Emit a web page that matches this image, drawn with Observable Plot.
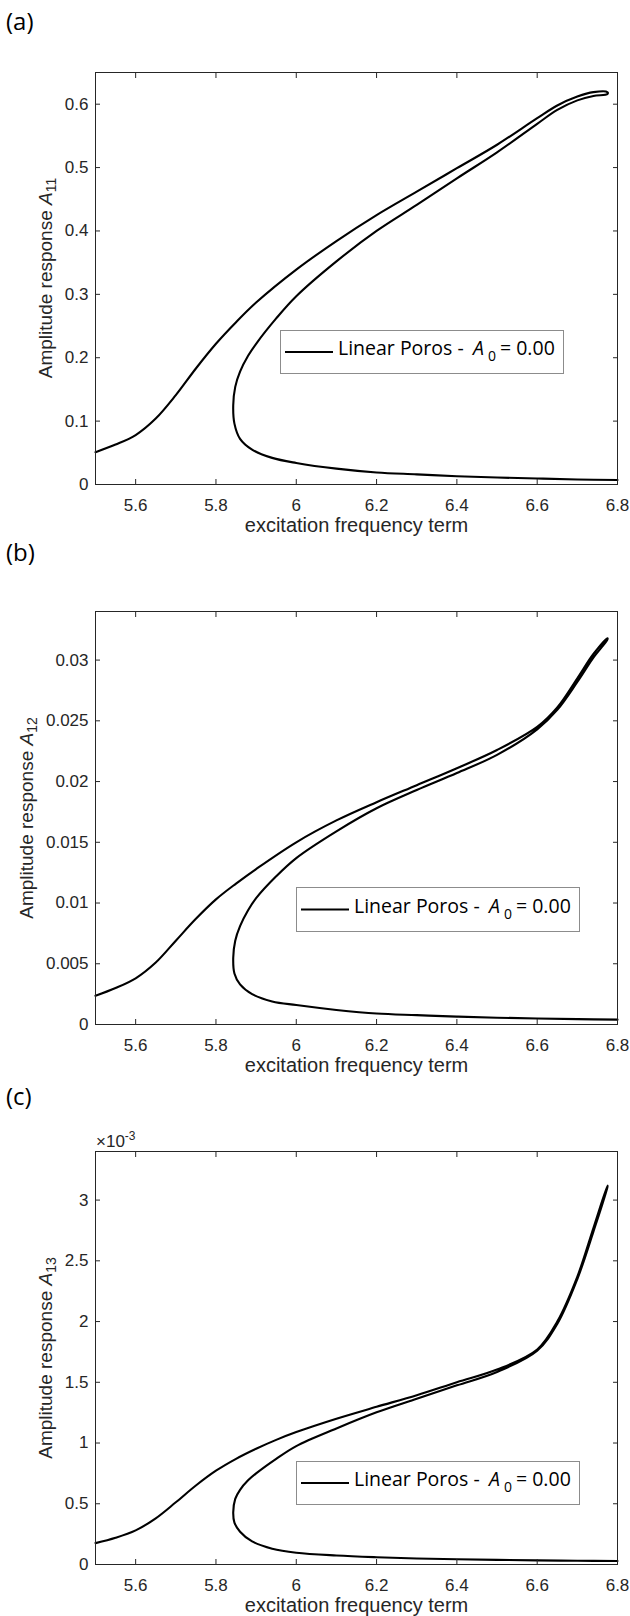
<!DOCTYPE html>
<html><head><meta charset="utf-8">
<script src="https://cdn.jsdelivr.net/npm/d3@7"></script>
<script src="https://cdn.jsdelivr.net/npm/@observablehq/plot@0.6"></script>
<style>
body{margin:0;background:#fff;}
#root{position:relative;width:630px;height:1616px;overflow:hidden;background:#fff;}
.panel{position:absolute;left:0;}
#overlay{position:absolute;left:0;top:0;pointer-events:none;}
</style></head>
<body><div id="root"></div>
<script>
// ---- data ----
const xTicks = [5.6, 5.8, 6.0, 6.2, 6.4, 6.6, 6.8];
const xDomain = [5.5, 6.8];
const xLabel = "excitation frequency term";
const panelLetters = ["(a)", "(b)", "(c)"];
const legendText = "Linear Poros -";
const legendValue = "= 0.00";

// (a) A11
const yTicksA = [0, 0.1, 0.2, 0.3, 0.4, 0.5, 0.6];
const yDomainA = [0, 0.65];
const a11Upper = [[5.5,.051],[5.55,.063],[5.6,.078],[5.65,.104],[5.7,.141],[5.75,.183],[5.8,.222],[5.85,.256],[5.9,.287],[6.0,.339],[6.1,.384],[6.2,.425],[6.3,.462],[6.4,.499],[6.5,.536],[6.6,.578],[6.65,.598],[6.7,.612],[6.74,.619],[6.775,.619]];
const a11Return = [[6.775,.616],[6.74,.613],[6.7,.606],[6.65,.591],[6.6,.569],[6.5,.524],[6.4,.483],[6.3,.441],[6.2,.400],[6.1,.352],[6.0,.297],[5.95,.262],[5.9,.222],[5.88,.203],[5.86,.178],[5.848,.154],[5.843,.125],[5.846,.096],[5.86,.072],[5.89,.055],[5.94,.042],[6.0,.034],[6.1,.025],[6.2,.019],[6.3,.016],[6.4,.013],[6.5,.011],[6.6,.0095],[6.7,.008],[6.8,.007]];

// (b) A12
const yTicksB = [0, 0.005, 0.01, 0.015, 0.02, 0.025, 0.03];
const yDomainB = [0, 0.034];
const a12Upper = [[5.5,.00236],[5.55,.0030],[5.6,.0038],[5.65,.0051],[5.7,.0069],[5.75,.0087],[5.8,.0103],[5.85,.0116],[5.9,.0128],[6.0,.0150],[6.1,.0168],[6.2,.0183],[6.3,.0197],[6.4,.0211],[6.5,.0226],[6.6,.0245],[6.65,.0261],[6.7,.0285],[6.74,.0305],[6.775,.0318]];
const a12Return = [[6.775,.0317],[6.74,.0302],[6.7,.0282],[6.65,.0259],[6.6,.0243],[6.5,.0222],[6.4,.0207],[6.3,.0193],[6.2,.0178],[6.1,.0159],[6.0,.0137],[5.95,.0122],[5.9,.0104],[5.88,.0094],[5.86,.0081],[5.848,.0069],[5.843,.0055],[5.846,.0042],[5.86,.0033],[5.89,.0025],[5.94,.0019],[6.0,.0016],[6.1,.0012],[6.2,.0009],[6.3,.00077],[6.4,.00065],[6.5,.00056],[6.6,.0005],[6.7,.00044],[6.8,.0004]];

// (c) A13 (in units of 1e-3)
const yTicksC = [0, 0.5, 1, 1.5, 2, 2.5, 3];
const yDomainC = [0, 3.4];
const a13Upper = [[5.5,.176],[5.55,.22],[5.6,.281],[5.65,.38],[5.7,.512],[5.75,.650],[5.8,.772],[5.85,.870],[5.9,.953],[5.95,1.026],[6.0,1.090],[6.1,1.200],[6.2,1.298],[6.3,1.394],[6.4,1.501],[6.5,1.605],[6.6,1.77],[6.65,2.0],[6.7,2.37],[6.74,2.77],[6.775,3.12]];
const a13Return = [[6.775,3.11],[6.74,2.74],[6.7,2.35],[6.65,1.98],[6.6,1.76],[6.5,1.585],[6.4,1.475],[6.3,1.365],[6.2,1.253],[6.1,1.12],[6.0,.975],[5.95,.87],[5.9,.75],[5.88,.693],[5.86,.615],[5.848,.54],[5.843,.43],[5.846,.345],[5.86,.27],[5.89,.19],[5.94,.13],[6.0,.097],[6.1,.074],[6.2,.06],[6.3,.05],[6.4,.043],[6.5,.038],[6.6,.034],[6.7,.031],[6.8,.029]];

// ---- drawing ----
const fmt = d => String(+d.toFixed(4));
const FONT = '"Liberation Sans", Arial, sans-serif';
const TICK_FS = 17;
const toRows = (...branches) => branches.flat().map(([x, y]) => ({x, y}));

function panel(rows, yDomain, yTicks, height, marginTop, marginBottom) {
  return Plot.plot({
    width: 630, height, marginLeft: 95, marginRight: 13, marginTop, marginBottom,
    x: {domain: xDomain, label: null},
    y: {domain: yDomain, label: null},
    style: {fontFamily: FONT, fontSize: TICK_FS + "px", color: "#262626", background: "transparent", overflow: "visible"},
    marks: [
      Plot.line(rows, {x: "x", y: "y", stroke: "#000", strokeWidth: 2.1, curve: "catmull-rom"}),
      Plot.frame({stroke: "#262626", strokeWidth: 1}),
      Plot.axisX(xTicks, {anchor: "bottom", tickSize: -5, tickPadding: 19, tickFormat: fmt, label: null, fontSize: TICK_FS}),
      Plot.axisX(xTicks, {anchor: "top", tickSize: -5, tickFormat: () => "", label: null}),
      Plot.axisY(yTicks, {anchor: "left", tickSize: -5, tickPadding: 12, tickFormat: fmt, label: null, fontSize: TICK_FS}),
      Plot.axisY(yTicks, {anchor: "right", tickSize: -5, tickFormat: () => "", label: null}),
      Plot.text([xLabel], {frameAnchor: "bottom", dy: 41, fontSize: 20, lineAnchor: "middle", fill: "#262626"})
    ]
  });
}

const root = document.getElementById("root");
const specs = [
  {rows: toRows(a11Upper, a11Return), yd: yDomainA, yt: yTicksA, top: 0, h: 540, mt: 72, mb: 56},
  {rows: toRows(a12Upper, a12Return), yd: yDomainB, yt: yTicksB, top: 540, h: 540, mt: 71, mb: 56},
  {rows: toRows(a13Upper, a13Return), yd: yDomainC, yt: yTicksC, top: 1080, h: 536, mt: 71, mb: 52}
];
for (const s of specs) {
  const el = panel(s.rows, s.yd, s.yt, s.h, s.mt, s.mb);
  el.classList.add("panel");
  el.style.top = s.top + "px";
  root.appendChild(el);
}

// overlay: panel letters, y labels with subscripts, legends, exponent
const subs = ["11", "12", "13"];
const letterY = [30, 561, 1105];
const ylab = [{x: 52, y: 278}, {x: 33, y: 818}, {x: 52, y: 1358}];
const legends = [{x: 280, y: 330, h: 44}, {x: 296, y: 887, h: 45}, {x: 296, y: 1461, h: 44}];
let svg = `<svg id="overlay" width="630" height="1616" xmlns="http://www.w3.org/2000/svg">`;
for (let i = 0; i < 3; i++) {
  svg += `<text x="6" y="${letterY[i]}" font-family="Open Sans" font-size="24" fill="#000">${panelLetters[i]}</text>`;
  svg += `<text transform="translate(${ylab[i].x},${ylab[i].y}) rotate(-90)" text-anchor="middle" font-family='${FONT}' font-size="19" fill="#262626">Amplitude response <tspan font-style="italic">A</tspan><tspan font-size="14" dy="4">${subs[i]}</tspan></text>`;
  const L = legends[i];
  svg += `<g transform="translate(${L.x},${L.y})">
    <rect x="0.5" y="0.5" width="283" height="${L.h - 1}" fill="#fff" stroke="#8c8c8c" stroke-width="1"/>
    <line x1="5" x2="53" y1="${L.h/2}" y2="${L.h/2}" stroke="#000" stroke-width="2"/>
    <text y="${L.h/2 + 3}" font-family="Open Sans" font-size="19.5" fill="#000">
      <tspan x="58">${legendText}</tspan><tspan x="193" font-style="italic">A</tspan><tspan x="208" dy="6" font-size="14">0</tspan><tspan x="220" dy="-6">${legendValue}</tspan>
    </text></g>`;
}
svg += `<text x="96" y="1147" font-family='${FONT}' font-size="17" fill="#262626">×10<tspan font-size="12" dy="-7">-3</tspan></text>`;
svg += `</svg>`;
root.insertAdjacentHTML("beforeend", svg);
</script>
</body></html>
